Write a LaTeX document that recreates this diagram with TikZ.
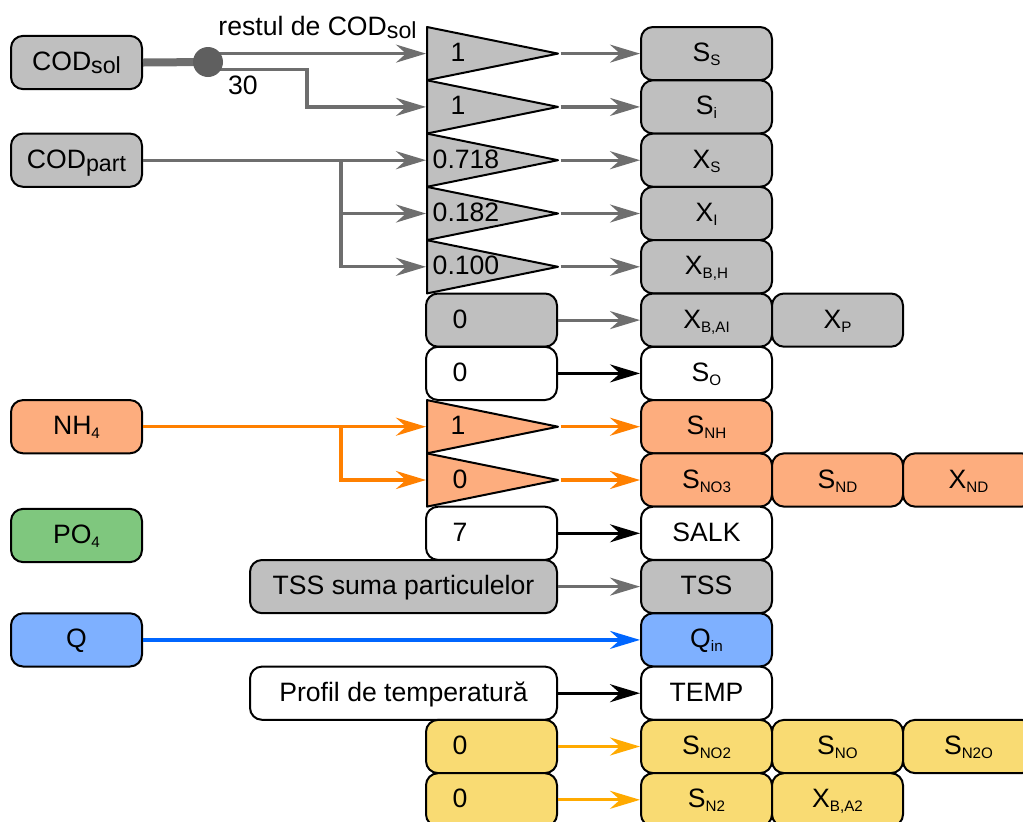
\documentclass[tikz,border=0pt]{standalone}
\usepackage{fontspec}
\setmainfont{Liberation Sans}
\usetikzlibrary{shapes.geometric, arrows.meta, positioning, calc}
\usepackage{xcolor}
\definecolor{greyfill}{HTML}{BFBFBF}
\definecolor{greyline}{HTML}{6E6E6E}
\definecolor{dotgrey}{HTML}{5F5F5F}
\definecolor{orfill}{HTML}{FDAD7E}
\definecolor{orline}{HTML}{FF8000}
\definecolor{grfill}{HTML}{7FC77E}
\definecolor{blfill}{HTML}{7EB0FF}
\definecolor{blline}{HTML}{0066FF}
\definecolor{yefill}{HTML}{F9DB73}
\definecolor{yeline}{HTML}{FFAA00}
\newcommand{\sbt}[1]{\raisebox{-2pt}{\fontsize{7.6}{8}\selectfont #1}}
\newcommand{\sbg}[1]{\raisebox{-1.5pt}{\fontsize{11.6}{12}\selectfont #1}}
\tikzset{
  box/.style     = {draw, rounded corners=6pt, line width=1pt, align=center,
                    minimum width=65.5pt, minimum height=26.6pt, inner sep=0pt,
                    text height=10pt, text depth=2pt,
                    font=\fontsize{13.3}{16}\selectfont, fill=white},
  whbox/.style   = {box},
  greybox/.style = {box, fill=greyfill},
  orbox/.style   = {box, fill=orfill},
  grbox/.style   = {box, fill=grfill},
  blbox/.style   = {box, fill=blfill},
  yebox/.style   = {box, fill=yefill},
  valbox/.style  = {align=left, text width=39pt, inner xsep=13pt},
  wide/.style    = {minimum width=153.5pt},
  tri/.style     = {draw, isosceles triangle, isosceles triangle stretches,
                    minimum width=26.6pt, minimum height=65.5pt, inner sep=0pt,
                    line width=1pt, line join=round, anchor=west},
  num/.style     = {inner sep=0pt, text height=10pt, text depth=2pt,
                    font=\fontsize{13.3}{16}\selectfont},
  lbl/.style     = {inner sep=0pt, anchor=base, font=\fontsize{13.3}{16}\selectfont},
  splitdot/.style= {circle, fill=dotgrey, minimum size=15pt, inner sep=0pt},
  flow/.style    = {-{Stealth[length=15pt, width=9pt, inset=5pt]}, line width=1.6pt},
  gflow/.style   = {flow, greyline},
  kflow/.style   = {flow, black},
  oflow/.style   = {flow, orline},
  bflow/.style   = {flow, blline},
  yflow/.style   = {flow, yeline}
}

\begin{document}
\begin{tikzpicture}[x=0.5pt, y=-0.5pt]
\useasboundingbox (0,0) rectangle (1023,821);
\clip (0,0) rectangle (1023,821);

% inputs
\node[greybox] at (76.5,62.5)  (codsol)  {COD\sbg{sol}};
\node[greybox] at (76.5,160.2) (codpart) {COD\sbg{part}};
\node[orbox]   at (76.5,426.7) (nh)      {NH\sbt{4}};
\node[grbox]   at (76.5,535.5) (po)      {PO\sbt{4}};
\node[blbox]   at (76.5,639.9) (q)       {Q};

% fractions
\node[tri, fill=greyfill] at (426,53.6)  (t1) {};
\node[tri, fill=greyfill] at (426,106.9) (t2) {};
\node[tri, fill=greyfill] at (426,160.2) (t3) {};
\node[tri, fill=greyfill] at (426,213.5) (t4) {};
\node[tri, fill=greyfill] at (426,266.8) (t5) {};
\node[tri, fill=orfill]   at (426,426.7) (t8) {};
\node[tri, fill=orfill]   at (426,480.0) (t9) {};
\node[num] at (458,53.6)  (k1) {1};
\node[num] at (458,106.9) (k2) {1};
\node[num] at (466,160.2) (k3) {0.718};
\node[num] at (466,213.5) (k4) {0.182};
\node[num] at (466,266.8) (k5) {0.100};
\node[num] at (458,426.7) (k8) {1};
\node[num] at (460,480.0) (k9) {0};

% constant values
\node[greybox, valbox] at (491.5,320.1) (v6)  {0};
\node[whbox, valbox]   at (491.5,373.4) (v7)  {0};
\node[whbox, valbox]   at (491.5,533.3) (v10) {7};
\node[greybox, wide]   at (403.5,586.6) (tsum) {TSS suma particulelor};
\node[whbox, wide]     at (403.5,693.2) (tprof) {Profil de temperatură};
\node[yebox, valbox]   at (491.5,746.5) (v14) {0};
\node[yebox, valbox]   at (491.5,799.8) (v15) {0};

% model states
\node[greybox] at (706.5,53.6)  (ss)   {S\sbt{S}};
\node[greybox] at (706.5,106.9) (si)   {S\sbt{i}};
\node[greybox] at (706.5,160.2) (xs)   {X\sbt{S}};
\node[greybox] at (706.5,213.5) (xi)   {X\sbt{I}};
\node[greybox] at (706.5,266.8) (xbh)  {X\sbt{B,H}};
\node[greybox] at (706.5,320.1) (xba)  {X\sbt{B,AI}};
\node[greybox] at (837.5,320.1) (xp)   {X\sbt{P}};
\node[whbox]   at (706.5,373.4) (so)   {S\sbt{O}};
\node[orbox]   at (706.5,426.7) (snh)  {S\sbt{NH}};
\node[orbox]   at (706.5,480.0) (sno3) {S\sbt{NO3}};
\node[orbox]   at (837.5,480.0) (snd)  {S\sbt{ND}};
\node[orbox]   at (968.5,480.0) (xnd)  {X\sbt{ND}};
\node[whbox]   at (706.5,533.3) (salk) {SALK};
\node[greybox] at (706.5,586.6) (tss)  {TSS};
\node[blbox]   at (706.5,639.9) (qin)  {Q\sbt{in}};
\node[whbox]   at (706.5,693.2) (temp) {TEMP};
\node[yebox]   at (706.5,746.5) (sno2) {S\sbt{NO2}};
\node[yebox]   at (837.5,746.5) (sno)  {S\sbt{NO}};
\node[yebox]   at (968.5,746.5) (sn2o) {S\sbt{N2O}};
\node[yebox]   at (706.5,799.8) (sn2)  {S\sbt{N2}};
\node[yebox]   at (837.5,799.8) (xba2) {X\sbt{B,A2}};

% split of soluble COD
\coordinate (split)   at (208,62);
\coordinate (bendsol) at (307,106.9);
\draw[greyline, line width=4pt] (codsol.east) -- (split);
\draw[gflow] (split |- t1.west) -- (t1.west);
\draw[gflow] ($(split)+(0,7.3)$) -| (bendsol) -- (t2.west);
\node[splitdot] at (split) (dot) {};
\node[lbl] at (317.5,35) (rest) {restul de COD\sbg{sol}};
\node[lbl] at (243,94)   (thirty) {30};

% particulate COD
\coordinate (brpart) at (341,160.2);
\draw[gflow] (codpart.east) -- (t3.west);
\draw[gflow] (brpart) |- (t4.west);
\draw[gflow] (brpart) |- (t5.west);

% ammonium
\coordinate (brnh) at (341,426.7);
\draw[oflow] (nh.east) -- (t8.west);
\draw[oflow] (brnh) |- (t9.west);

% to states
\draw[gflow] (t1.apex) -- (ss.west);
\draw[gflow] (t2.apex) -- (si.west);
\draw[gflow] (t3.apex) -- (xs.west);
\draw[gflow] (t4.apex) -- (xi.west);
\draw[gflow] (t5.apex) -- (xbh.west);
\draw[gflow] (v6.east) -- (xba.west);
\draw[kflow] (v7.east) -- (so.west);
\draw[oflow] (t8.apex) -- (snh.west);
\draw[oflow] (t9.apex) -- (sno3.west);
\draw[kflow] (v10.east) -- (salk.west);
\draw[gflow] (tsum.east) -- (tss.west);
\draw[bflow] (q.east) -- (qin.west);
\draw[kflow] (tprof.east) -- (temp.west);
\draw[yflow] (v14.east) -- (sno2.west);
\draw[yflow] (v15.east) -- (sn2.west);
\end{tikzpicture}
\end{document}
